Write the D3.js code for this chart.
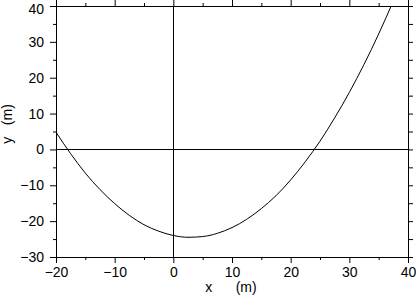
<!DOCTYPE html>
<html>
<head>
<meta charset="utf-8">
<script src="https://cdn.jsdelivr.net/npm/d3@7.8.5/dist/d3.min.js"></script>
<style>
  html, body { margin: 0; padding: 0; background: #fff; }
  svg { display: block; }
  text { font-family: "Liberation Sans", Arial, sans-serif; fill: #000; }
</style>
</head>
<body>
<svg id="chart" width="416" height="296"></svg>
<script>
// values
const xValues = [-20, -17.5, -15, -12.5, -10, -7.5, -5, -2.5, 0, 2.5, 5, 7.5, 10, 12.5, 15, 17.5, 20, 22.5, 25, 27.5, 30, 32.5, 35, 37.5];
const yValues = [4.8, -1.2, -6.6, -11.2, -15.1, -18.4, -21.0, -22.8, -24.0, -24.5, -24.3, -23.4, -21.8, -19.5, -16.5, -12.9, -8.5, -3.4, 2.3, 8.8, 15.9, 23.7, 32.2, 41.4];

const xMajor = [-20, -10, 0, 10, 20, 30, 40];
const xMinor = [-15, -5, 5, 15, 25, 35];
const yMajor = [-30, -20, -10, 0, 10, 20, 30, 40];
const yMinor = [-25, -15, -5, 5, 15, 25, 35];
const xLabel = 'x      (m)';
const yLabel = 'y   (m)';

const W = 416, H = 296;
const margin = { top: 6, right: 8, bottom: 39, left: 56 };
const innerW = W - margin.left - margin.right;
const innerH = H - margin.top - margin.bottom;

const svg = d3.select('#chart');
const g = svg.append('g').attr('transform', `translate(${margin.left},${margin.top})`);

const x = d3.scaleLinear().domain([-20, 40]).range([0, innerW]);
const y = d3.scaleLinear().domain([-30, 40]).range([innerH, 0]);

const fmt = d => (d < 0 ? '\u2212' + Math.abs(d) : String(d));

// clip for the curve
svg.append('defs').append('clipPath').attr('id', 'plot-clip')
  .append('rect').attr('width', innerW).attr('height', innerH);

function styleAxis(sel) {
  sel.select('.domain').attr('stroke', '#000').attr('stroke-width', 1);
  sel.selectAll('.tick line').attr('stroke', '#000').attr('stroke-width', 1);
  sel.selectAll('.tick text').style('font-size', '14px').attr('fill', '#000');
}

// minor ticks
g.append('g').call(d3.axisLeft(y).tickValues(yMinor).tickSize(3).tickFormat('')).call(styleAxis);
g.append('g').attr('transform', `translate(0,${innerH})`)
  .call(d3.axisBottom(x).tickValues(xMinor).tickSize(3).tickFormat('')).call(styleAxis);
g.append('g').call(d3.axisTop(x).tickValues(xMinor).tickSize(3).tickFormat('')).call(styleAxis);
g.append('g').attr('transform', `translate(${innerW},0)`)
  .call(d3.axisRight(y).tickValues(yMinor).tickSize(5).tickFormat('')).call(styleAxis);

// major ticks
const yAxisG = g.append('g')
  .call(d3.axisLeft(y).tickValues(yMajor).tickSize(6).tickPadding(6).tickFormat(fmt))
  .call(styleAxis);
// the top label sits right at the edge, nudge it down so it stays visible
yAxisG.selectAll('.tick text').filter(d => d === 40).attr('dy', '0.32em').attr('y', 3);

g.append('g').attr('transform', `translate(0,${innerH})`)
  .call(d3.axisBottom(x).tickValues(xMajor).tickSize(6).tickPadding(4).tickFormat(fmt))
  .call(styleAxis);
g.append('g').call(d3.axisTop(x).tickValues(xMajor).tickSize(6).tickFormat('')).call(styleAxis);
g.append('g').attr('transform', `translate(${innerW},0)`)
  .call(d3.axisRight(y).tickValues(yMajor).tickSize(5).tickFormat('')).call(styleAxis);

// zero lines
g.append('line')
  .attr('x1', 0).attr('x2', innerW)
  .attr('y1', Math.round(y(0)) + 0.5).attr('y2', Math.round(y(0)) + 0.5)
  .attr('stroke', '#000');
g.append('line')
  .attr('x1', Math.round(x(0)) + 0.5).attr('x2', Math.round(x(0)) + 0.5)
  .attr('y1', 0).attr('y2', innerH)
  .attr('stroke', '#000');

// curve
const pts = xValues.map((v, i) => [v, yValues[i]]);
g.append('path')
  .datum(pts)
  .attr('clip-path', 'url(#plot-clip)')
  .attr('fill', 'none')
  .attr('stroke', '#000')
  .attr('stroke-width', 1)
  .attr('d', d3.line().x(d => x(d[0])).y(d => y(d[1])).curve(d3.curveMonotoneX));

// axis titles
svg.append('text')
  .attr('x', 231).attr('y', 292)
  .attr('text-anchor', 'middle')
  .style('font-size', '14px')
  .style('white-space', 'pre')
  .text(xLabel);
svg.append('text')
  .attr('transform', 'translate(12,124) rotate(-90)')
  .attr('text-anchor', 'middle')
  .style('font-size', '14px')
  .style('white-space', 'pre')
  .text(yLabel);
</script>
</body>
</html>
